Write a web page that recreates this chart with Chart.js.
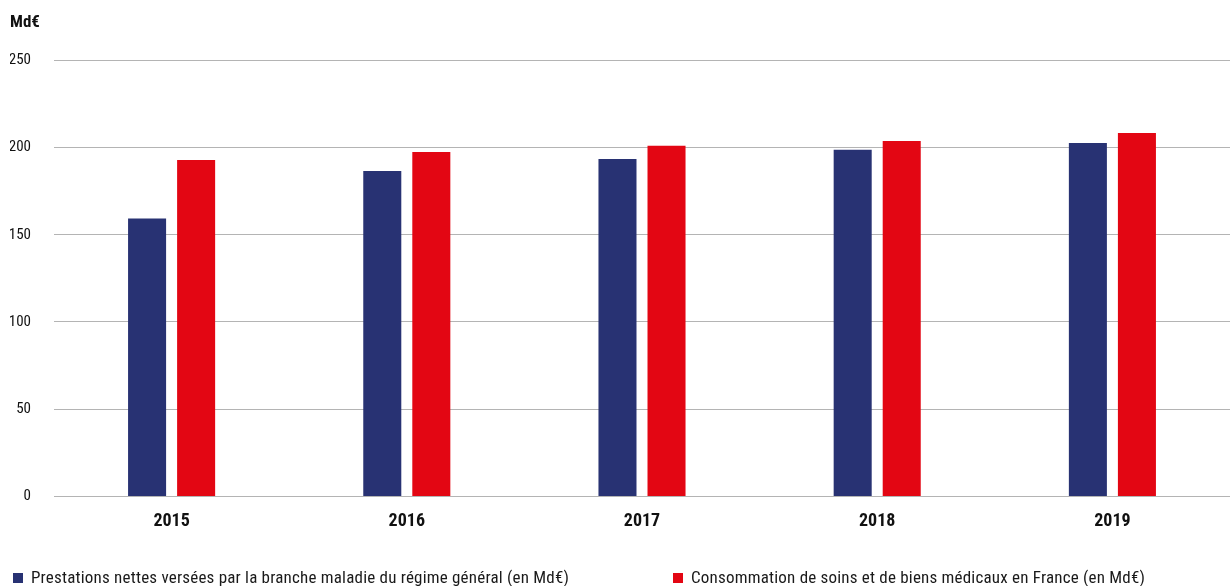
<!DOCTYPE html>
<html>
<head>
<meta charset="utf-8">
<script src="https://cdn.jsdelivr.net/npm/chart.js@4/dist/chart.umd.min.js"></script>
<style>
  html, body { margin: 0; padding: 0; background: #fff; }
  #wrap { position: relative; width: 1230px; height: 586px; }
  #barChart { position: absolute; left: 0; top: 0; }
  .leg { position: absolute; top: 568px; font-family: 'Roboto Condensed', sans-serif; letter-spacing: 0.2px;
         font-size: 17px; color: #1a1a1a; white-space: nowrap; line-height: 19px; }
  .leg span.box { display: inline-block; width: 10px; height: 10px; margin-right: 8px; vertical-align: 0px; }
</style>
</head>
<body>
<div id="wrap">
  <canvas id="barChart" width="1230" height="586"></canvas>
  <div class="leg" id="leg0" style="left:13px"></div>
  <div class="leg" id="leg1" style="left:673px"></div>
</div>
<script>
// annees
const annees = ['2015', '2016', '2017', '2018', '2019'];
// prestations nettes branche maladie (Md€)
const prestations = [159.3, 186.6, 193.5, 198.7, 202.7];
// consommation de soins et biens medicaux (Md€)
const consommation = [192.9, 197.5, 201, 203.8, 208.4];
const nomsSeries = [
    'Prestations nettes versées par la branche maladie du régime général (en Md€)',
    'Consommation de soins et de biens médicaux en France (en Md€)'
];
const couleurs = ['#283273', '#e30613'];
const ticksY = [0, 50, 100, 150, 200, 250];

const police = "'Roboto Condensed', sans-serif";

const ctx = document.getElementById('barChart').getContext('2d');
const myChart = new Chart(ctx, {
    type: 'bar',
    data: {
        labels: annees,
        datasets: [{
            label: nomsSeries[0],
            data: prestations,
            backgroundColor: couleurs[0],
            categoryPercentage: 0.417,
            barPercentage: 0.7755
        }, {
            label: nomsSeries[1],
            data: consommation,
            backgroundColor: couleurs[1],
            categoryPercentage: 0.417,
            barPercentage: 0.7755
        }]
    },
    options: {
        responsive: false,
        animation: false,
        layout: { padding: { left: 10, right: 0, top: 0, bottom: 48 } },
        plugins: {
            legend: { display: false },
            tooltip: { enabled: false },
            title: {
                display: true,
                text: 'Md€',
                align: 'start',
                color: '#111',
                font: { family: police, size: 17, weight: 'bold' },
                padding: { top: 13, bottom: 27 }
            }
        },
        scales: {
            x: {
                grid: { display: false },
                border: { display: false },
                ticks: {
                    color: '#111',
                    padding: 6,
                    font: { family: police, size: 18, weight: 'bold' }
                }
            },
            y: {
                min: 0,
                max: 250,
                afterFit: function (scale) { scale.width = 44; },
                afterBuildTicks: function (scale) {
                    scale.ticks = ticksY.map(v => ({ value: v }));
                },
                grid: { color: '#b4b4b4', lineWidth: 1, drawTicks: false },
                border: { display: false },
                ticks: {
                    color: '#111',
                    padding: 23,
                    font: { family: police, size: 15 }
                }
            }
        }
    }
});

// legende
nomsSeries.forEach(function (nom, i) {
    const el = document.getElementById('leg' + i);
    const box = document.createElement('span');
    box.className = 'box';
    box.style.background = couleurs[i];
    el.appendChild(box);
    el.appendChild(document.createTextNode(nom));
});
</script>
</body>
</html>
